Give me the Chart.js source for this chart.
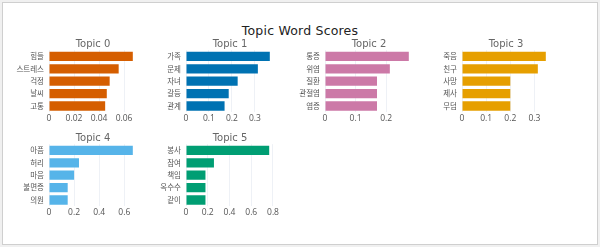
<!DOCTYPE html>
<html>
<head>
<meta charset="utf-8">
<script src="https://cdn.jsdelivr.net/npm/chart.js@4/dist/chart.umd.min.js"></script>
<style>
  html, body { margin: 0; padding: 0; background: #ffffff; }
  #wrap { position: relative; width: 600px; height: 247px; overflow: hidden; background: #f0f0f0; }
  #box { position: absolute; left: 2px; top: 2px; width: 594px; height: 241px; border: 1px solid #cfcfcf; background: #ffffff; }
  #title { position: absolute; left: 0; width: 600px; top: 23px; text-align: center;
           font-family: "DejaVu Sans", sans-serif; font-size: 12.5px; color: #222; letter-spacing: 0.2px; }
  .sub { position: absolute; width: 100px; text-align: center;
         font-family: "DejaVu Sans", sans-serif; font-size: 10px; color: #666; }
  canvas { position: absolute; }
</style>
</head>
<body>
<div id="wrap">
  <div id="box"></div>
  <div id="title">Topic Word Scores</div>
  <canvas id="c0" width="141" height="95"></canvas>
  <canvas id="c1" width="141" height="95"></canvas>
  <canvas id="c2" width="141" height="95"></canvas>
  <canvas id="c3" width="141" height="95"></canvas>
  <canvas id="c4" width="141" height="95"></canvas>
  <canvas id="c5" width="141" height="95"></canvas>
</div>
<script>
// ---- data ----
const topicTitles = ["Topic 0", "Topic 1", "Topic 2", "Topic 3", "Topic 4", "Topic 5"];
const topic0Words = ["힘들", "스트레스", "걱정", "날씨", "고통"];
const topic0Scores = [0.067, 0.0557, 0.0485, 0.0462, 0.0449];
const topic1Words = ["가족", "문제", "자녀", "갈등", "관계"];
const topic1Scores = [0.365, 0.313, 0.225, 0.186, 0.168];
const topic2Words = ["통증", "위염", "질환", "관절염", "염증"];
const topic2Scores = [0.274, 0.212, 0.17, 0.17, 0.17];
const topic3Words = ["죽음", "친구", "사망", "제사", "무덤"];
const topic3Scores = [0.347, 0.314, 0.2, 0.2, 0.2];
const topic4Words = ["아픔", "허리", "마음", "불면증", "의원"];
const topic4Scores = [0.668, 0.239, 0.2, 0.149, 0.149];
const topic5Words = ["봉사", "참여", "책임", "옥수수", "같이"];
const topic5Scores = [0.765, 0.257, 0.179, 0.179, 0.179];
const tickSteps = [0.02, 0.1, 0.1, 0.1, 0.2, 0.2];
const topicColors = ["#D55E00", "#0072B2", "#CC79A7", "#E69F00", "#56B4E9", "#009E73"];

const words = [topic0Words, topic1Words, topic2Words, topic3Words, topic4Words, topic5Words];
const scores = [topic0Scores, topic1Scores, topic2Scores, topic3Scores, topic4Scores, topic5Scores];

// ---- layout (canvas placement) ----
const lefts = [2, 139, 278, 415, 2, 139];
const tops = [32, 32, 32, 32, 126, 126];

const YAXIS_W = 47, XAXIS_H = 14.8, TITLE_H = 18.2, PLOT_W = 88;

const wrap = document.getElementById('wrap');
for (let i = 0; i < 6; i++) {
  const cv = document.getElementById('c' + i);
  cv.style.left = lefts[i] + 'px';
  cv.style.top = tops[i] + 'px';

  const t = document.createElement('div');
  t.className = 'sub';
  t.textContent = topicTitles[i];
  t.style.left = (lefts[i] + YAXIS_W + PLOT_W / 2 - 50) + 'px';
  t.style.top = (tops[i] + 6) + 'px';
  wrap.appendChild(t);

  const maxVal = Math.max(...scores[i]) * 1.05;
  new Chart(cv, {
    type: 'bar',
    data: {
      labels: words[i],
      datasets: [{
        data: scores[i],
        backgroundColor: topicColors[i],
        borderWidth: 0,
        barPercentage: 0.75,
        categoryPercentage: 1.0
      }]
    },
    options: {
      indexAxis: 'y',
      responsive: false,
      animation: false,
      devicePixelRatio: 1,
      layout: { padding: { left: 0, right: 6, top: TITLE_H, bottom: 0 } },
      plugins: {
        legend: { display: false },
        tooltip: { enabled: false },
        title: { display: false }
      },
      scales: {
        x: {
          type: 'linear',
          min: 0,
          max: maxVal,
          grid: { color: '#eef1f6', drawTicks: false, lineWidth: 1 },
          border: { display: false },
          ticks: {
            stepSize: tickSteps[i],
            includeBounds: false,
            padding: 1,
            color: '#555',
            font: { family: '"Open Sans", sans-serif', size: 8.5 },
            maxRotation: 0
          },
          afterFit: (s) => { s.height = XAXIS_H; }
        },
        y: {
          grid: { display: false, drawTicks: false },
          border: { display: false },
          ticks: {
            padding: 5,
            color: '#555',
            font: { family: '"Noto Sans CJK KR", sans-serif', size: 7.5 }
          },
          afterFit: (s) => { s.width = YAXIS_W; }
        }
      }
    }
  });
}
</script>
</body>
</html>
